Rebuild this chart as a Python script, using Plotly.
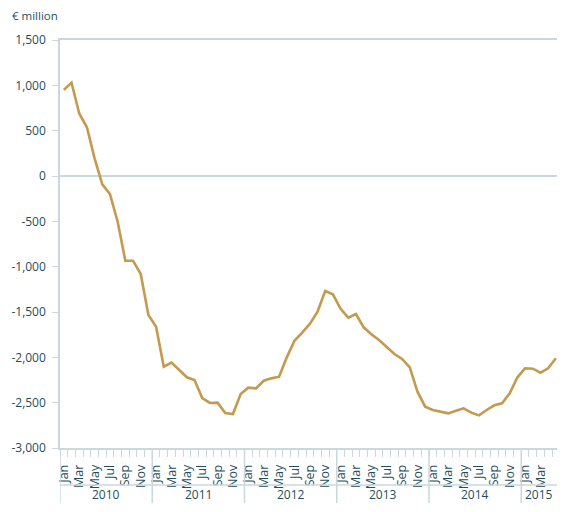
import plotly.graph_objects as go

# monthly series Jan 2010 - May 2015, € million
values = [
    950, 1030, 690, 537, 195, -92, -199, -504, -934, -934, -1081, -1533,
    -1662, -2103, -2059, -2140, -2220, -2250, -2449, -2503, -2500, -2614, -2625, -2404,
    -2335, -2342, -2258, -2232, -2213, -2000, -1817, -1728, -1632, -1496, -1268, -1305,
    -1465, -1563, -1522, -1669, -1746, -1809, -1882, -1963, -2018, -2110, -2379, -2544,
    -2581, -2599, -2618, -2589, -2562, -2610, -2640, -2581, -2529, -2507, -2397, -2220,
    -2121, -2125, -2169, -2121, -2011,
]
month_names = ["Jan", "Feb", "Mar", "Apr", "May", "Jun",
               "Jul", "Aug", "Sep", "Oct", "Nov", "Dec"]
years = ["2010", "2011", "2012", "2013", "2014", "2015"]
y_ticks = [1500, 1000, 500, 0, -500, -1000, -1500, -2000, -2500, -3000]
y_labels = ["1,500", "1,000", "500", "0", "-500", "-1,000", "-1,500", "-2,000", "-2,500", "-3,000"]

x = list(range(len(values)))
months = [month_names[i % 12] for i in x]
year_of = [years[i // 12] for i in x]

teal = "#1f4e5b"
axis_col = "#c8d8dd"
gold = "#c39a4e"
font = "Open Sans"
x_end = 64.15

W, H = 549, 496
ml, mt, mb = 52, 32, 56
pw, ph = W - ml, H - mt - mb

fig = go.Figure()
fig.add_trace(go.Scatter(x=x, y=values, mode="lines", cliponaxis=False,
                         line=dict(color=gold, width=2.6), hoverinfo="skip"))

# every other month gets a label
tick_x = [i for i in x if i % 2 == 0]
tick_t = [months[i] for i in tick_x]

fig.update_xaxes(
    range=[-0.5, x_end], tickmode="array", tickvals=tick_x, ticktext=tick_t,
    tickangle=-90, ticks="", ticklabelstandoff=10, automargin=False,
    tickfont=dict(family=font, size=12.5, color=teal),
    showline=True, linecolor=axis_col, linewidth=1.5, mirror=True,
    showgrid=False, zeroline=False,
    minor=dict(tickmode="linear", tick0=0.5, dtick=1, ticks="outside",
               ticklen=7, tickcolor=axis_col, tickwidth=1.2, showgrid=False),
)
fig.update_yaxes(
    range=[-3000, 1500], tickmode="array", tickvals=y_ticks, ticktext=y_labels,
    ticks="outside", ticklen=6, tickcolor=axis_col, tickwidth=1.2,
    ticklabelstandoff=4, automargin=False,
    tickfont=dict(family=font, size=12, color=teal),
    showline=True, linecolor=axis_col, linewidth=1.5,
    showgrid=False, zeroline=True, zerolinecolor=axis_col, zerolinewidth=1.5,
)

# year grouping below month labels
shapes = [dict(type="line", xref="x", yref="paper", x0=-0.5, x1=x_end,
               y0=-37 / ph, y1=-37 / ph, line=dict(color=axis_col, width=1.5))]
for yr in years:
    s = year_of.index(yr)
    shapes.append(dict(type="line", xref="x", yref="paper", x0=s - 0.5, x1=s - 0.5,
                       y0=0, y1=-55 / ph, line=dict(color=axis_col, width=1.5)))

annotations = []
for yr in years:
    idx = [i for i in x if year_of[i] == yr]
    lo, hi = idx[0] - 0.5, min(idx[-1] + 0.5, x_end)
    annotations.append(dict(x=(lo + hi) / 2, y=-46 / ph, xref="x", yref="paper",
                            text=yr, showarrow=False, yanchor="middle",
                            font=dict(family=font, size=12, color=teal)))
annotations.append(dict(x=-50 / pw, y=1 + 24 / ph, xref="paper", yref="paper",
                        xanchor="left", yanchor="middle", text="€ million",
                        showarrow=False, font=dict(family=font, size=11.5, color=teal)))

fig.update_layout(
    width=W, height=H, margin=dict(l=ml, r=0, t=mt, b=mb),
    plot_bgcolor="white", paper_bgcolor="white", showlegend=False,
    shapes=shapes, annotations=annotations,
)
fig.write_html("out.html")
